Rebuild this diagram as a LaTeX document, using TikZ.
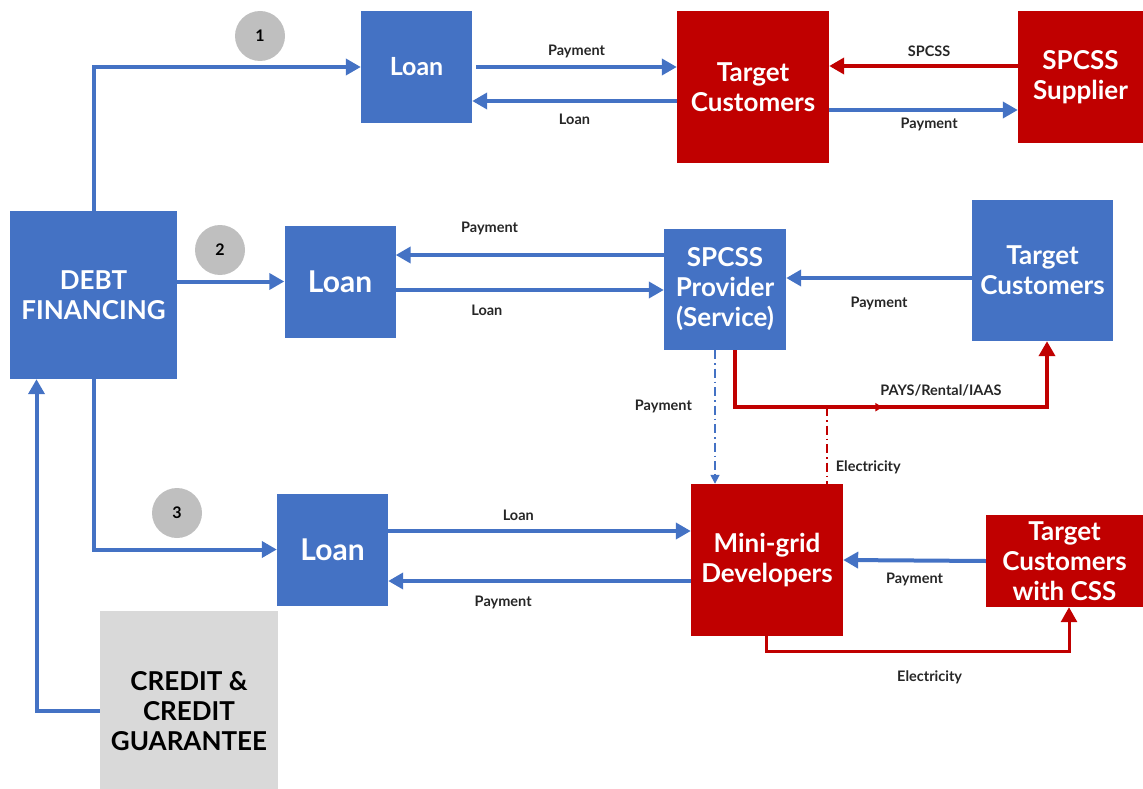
\documentclass[tikz,border=0pt]{standalone}
\usepackage{fontspec}
\setmainfont{Lato}
\usetikzlibrary{arrows.meta,decorations.markings}
\definecolor{boxblue}{HTML}{4472C4}
\definecolor{boxred}{HTML}{C00000}
\definecolor{numgray}{HTML}{BFBFBF}
\definecolor{credgray}{HTML}{D9D9D9}
\tikzset{>={Triangle[length=15pt,width=16pt]}}

\begin{document}
\begin{tikzpicture}[x=1pt,y=-1pt,
        blk/.style={fill=boxblue,text=white,align=center,inner sep=0pt,
          font=\bfseries\fontsize{26}{30}\selectfont},
        redblk/.style={blk,fill=boxred},
        loanbox/.style={blk,minimum width=111pt,minimum height=112pt},
        num/.style={circle,fill=numgray,minimum size=50pt,inner sep=0pt,
          font=\bfseries\fontsize{16}{16}\selectfont},
        lbl/.style={font=\bfseries\fontsize{14.5}{16}\selectfont,text=black!85},
        flow/.style={draw=boxblue,line width=4pt,->},
        redflow/.style={draw=boxred,line width=4pt,->},
        dflow/.style={draw=boxblue,line width=1.6pt,
          dash pattern=on 9pt off 4pt on 1.5pt off 4pt,
          -{Triangle[length=9pt,width=9pt]}},
        reddash/.style={draw=boxred,line width=1.6pt,
          dash pattern=on 9pt off 4pt on 1.5pt off 4pt}]
  \useasboundingbox (0,0) rectangle (1143,789);

  % boxes
  \node[blk,minimum width=167pt,minimum height=168pt] (debt) at (93.5,295) {DEBT\\FINANCING};
  \node[blk,fill=credgray,text=black,minimum width=178pt,minimum height=200pt] (credit) at (189,711) {CREDIT \&\\CREDIT\\GUARANTEE};
  \node[loanbox,font=\bfseries\fontsize{25}{28}\selectfont] (loanA) at (416.5,67) {Loan};
  \node[loanbox,font=\bfseries\fontsize{30}{32}\selectfont] (loanB) at (340,281.5) {Loan};
  \node[loanbox,font=\bfseries\fontsize{30}{32}\selectfont] (loanC) at (332.5,549.5) {Loan};
  \node[redblk,minimum width=152pt,minimum height=152pt] (tgtA) at (753,87) {Target\\Customers};
  \node[redblk,minimum width=125pt,minimum height=132pt] (supp) at (1080.5,77) {SPCSS\\Supplier};
  \node[blk,minimum width=122pt,minimum height=121pt] (prov) at (725,289.5) {SPCSS\\Provider\\(Service)};
  \node[blk,minimum width=141pt,minimum height=141pt] (tgtB) at (1042.5,270.5) {Target\\Customers};
  \node[redblk,minimum width=152pt,minimum height=152pt] (mg) at (767,560) {Mini-grid\\Developers};
  \node[redblk,minimum width=157pt,minimum height=92pt] (tcc) at (1064.5,561) {Target\\Customers\\with CSS};

  % numbers
  \node[num] (n1) at (260,36) {1};
  \node[num] (n2) at (220,250) {2};
  \node[num] (n3) at (177,513) {3};

  % debt financing routes
  \draw[flow] (debt.north) |- (loanA.west);
  \draw[flow] (debt.east |- loanB.west) -- (loanB.west);
  \draw[flow] (debt.south) |- (loanC.west);
  \draw[flow] (credit.west) -| ([xshift=-57pt]debt.south);

  % route 1
  \draw[flow] ([xshift=4pt]loanA.east) -- (tgtA.west |- loanA.east)
    node[lbl,midway,above=4pt] {Payment};
  \draw[flow] ([yshift=-14pt]tgtA.west) -- ([yshift=-34pt]loanA.east)
    node[lbl,midway,below=8pt] {Loan};
  \draw[redflow] ([yshift=11pt]supp.west) -- ([yshift=21pt]tgtA.east)
    node[lbl,pos=0.47,above=4pt] {SPCSS};
  \draw[flow] ([yshift=-23pt]tgtA.east) -- ([yshift=-33pt]supp.west)
    node[lbl,pos=0.53,below=3pt] {Payment};

  % route 2
  \draw[flow] ([yshift=34.5pt]prov.west) -- ([yshift=26.5pt]loanB.east)
    node[lbl,pos=0.65,above=15pt] {Payment};
  \draw[flow] ([yshift=-8.5pt]loanB.east) -- ([yshift=-0.5pt]prov.west)
    node[lbl,pos=0.34,below=10pt] {Loan};
  \draw[flow] ([yshift=-7.5pt]tgtB.west) -- ([yshift=11.5pt]prov.east)
    node[lbl,midway,below=14pt] {Payment};
  \draw[redflow,postaction={decorate},decoration={markings,
      mark=at position 0.47 with {\arrow{Triangle[length=7pt,width=8pt]}}}]
    ([xshift=10pt]prov.south) -- ++(0,57) -| ([xshift=4.5pt]tgtB.south)
    coordinate[pos=0.147] (tap)
    node[lbl,pos=0.33,above=6pt] {PAYS/Rental/IAAS};
  \draw[dflow] ([xshift=-10pt]prov.south) -- ([xshift=-52pt]mg.north)
    node[lbl,midway,left=19pt,yshift=11pt] {Payment};
  \draw[reddash] (tap) -- (tap |- mg.north)
    node[lbl,pos=0.78,right=5pt] {Electricity};

  % route 3
  \draw[flow] ([yshift=18.5pt]loanC.east) -- ([yshift=29pt]mg.west)
    node[lbl,pos=0.43,above=5pt] {Loan};
  \draw[flow] ([yshift=-21pt]mg.west) -- ([yshift=-31.5pt]loanC.east)
    node[lbl,pos=0.62,below=10pt] {Payment};
  \draw[flow] (tcc.west) -- (mg.east)
    node[lbl,midway,below=7pt] {Payment};
  \draw[redflow,line width=3pt] ([xshift=-1pt]mg.south) -- ++(0,15) -| ([xshift=4.5pt]tcc.south)
    node[lbl,pos=0.27,below=15pt] {Electricity};
\end{tikzpicture}
\end{document}
